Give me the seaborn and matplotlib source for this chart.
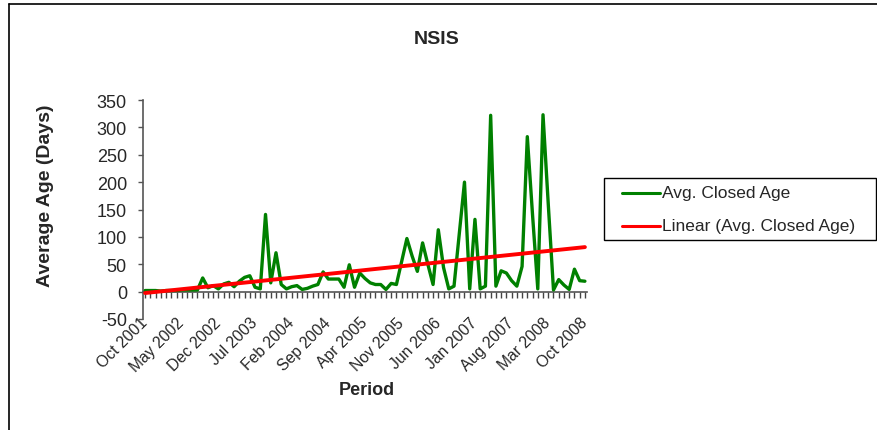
import numpy as np
import pandas as pd
import matplotlib
matplotlib.use("Agg")
import matplotlib.pyplot as plt
from matplotlib.lines import Line2D
from matplotlib.patches import Rectangle
import seaborn as sns

# Monthly average closed age, Oct 2001 .. Oct 2008
avg_closed_age = [
    2, 2, 2, 1, 2, 2, 2, 3, 3, 3, 3, 25, 7, 11, 5, 14, 17, 9, 19, 26,
    29, 8, 5, 141, 16, 71, 13, 5, 9, 11, 4, 6, 10, 13, 36, 23, 23, 23, 8, 49,
    8, 34, 24, 16, 13, 13, 4, 15, 13, 55, 97, 65, 37, 89, 50, 13, 113, 44, 5, 10,
    105, 200, 5, 132, 5, 10, 322, 10, 38, 34, 20, 10, 46, 283, 140, 5, 323, 160, 3, 22,
    12, 4, 41, 20, 19,
]
tick_labels = [
    "Oct 2001", "May 2002", "Dec 2002", "Jul 2003", "Feb 2004", "Sep 2004",
    "Apr 2005", "Nov 2005", "Jun 2006", "Jan 2007", "Aug 2007", "Mar 2008", "Oct 2008",
]
tick_step = 7
y_ticks = [-50, 0, 50, 100, 150, 200, 250, 300, 350]
series_name = "Avg. Closed Age"
trend_name = "Linear (Avg. Closed Age)"
series_color = "#008000"
trend_color = "#FF0000"

sns.set_theme(style="white")
plt.rcParams["font.family"] = ["Liberation Sans", "DejaVu Sans"]

month = np.arange(len(avg_closed_age))
slope, intercept = np.polyfit(month, avg_closed_age, 1)
df = pd.DataFrame({
    "month": month,
    series_name: avg_closed_age,
    trend_name: intercept + slope * month,
})

W, H = 878, 431
fig = plt.figure(figsize=(W / 100, H / 100), dpi=100)
ax = fig.add_axes([143 / W, 1 - 320 / H, 444 / W, 219 / H])

sns.lineplot(data=df, x="month", y=series_name, ax=ax, color=series_color,
             linewidth=2.4, zorder=3)
sns.lineplot(data=df, x="month", y=trend_name, ax=ax, color=trend_color,
             linewidth=2.8, zorder=4)

ax.set_xlim(-0.4, len(month) - 1 + 0.4)
ax.set_ylim(-50, 350)
ax.set_yticks(y_ticks)
ax.set_yticklabels([str(v) for v in y_ticks], fontsize=13)
ax.tick_params(axis="y", direction="out", length=3.6, width=1, color="#555555", pad=8, left=True)

ax.set_xticks(month[::tick_step])
ax.set_xticklabels(tick_labels, rotation=45, ha="right", va="center",
                   rotation_mode="anchor", fontsize=11.3)
ax.tick_params(axis="x", length=0, pad=0.5)

for side in ["top", "right", "bottom"]:
    ax.spines[side].set_visible(False)
ax.spines["left"].set_color("#555555")
ax.spines["left"].set_linewidth(1.2)

# Category axis crossing at zero, with a tick for every month
zero_axis = ax.secondary_xaxis(50 / 400)
zero_axis.set_xticks(month)
zero_axis.set_xticklabels([])
zero_axis.tick_params(direction="out", length=4, width=1, color="#444444")
zero_axis.spines["bottom"].set_color("#555555")
zero_axis.spines["bottom"].set_linewidth(1.2)

ax.set_xlabel("")
ax.set_ylabel("")
fig.text(367 / W, 1 - 391 / H, "Period", ha="center", va="center",
         fontsize=13, fontweight="bold")
fig.text(46 / W, 1 - 196 / H, "Average Age (Days)", ha="center", va="center",
         rotation=90, fontsize=14, fontweight="bold")
fig.text(437 / W, 1 - 40 / H, "NSIS", ha="center", va="center", fontsize=14, fontweight="bold")

# Legend box
fig.add_artist(Rectangle((604 / W, 1 - 241 / H), 272 / W, 62 / H, transform=fig.transFigure,
                         facecolor="white", edgecolor="black", linewidth=1.0))
for y_px, name, color in [(194, series_name, series_color), (227, trend_name, trend_color)]:
    fig.add_artist(Line2D([622 / W, 660 / W], [1 - y_px / H, 1 - y_px / H],
                          color=color, linewidth=2.2))
    fig.text(662 / W, 1 - y_px / H, name, ha="left", va="center", fontsize=12.5)

# Chart area border
fig.add_artist(Line2D([9 / W, 9 / W], [0, 1 - 5 / H], color="black", linewidth=1.2))
fig.add_artist(Line2D([9 / W, 1], [1 - 5 / H, 1 - 5 / H], color="black", linewidth=1.2))

fig.savefig("out.png", dpi=100, facecolor="white")
